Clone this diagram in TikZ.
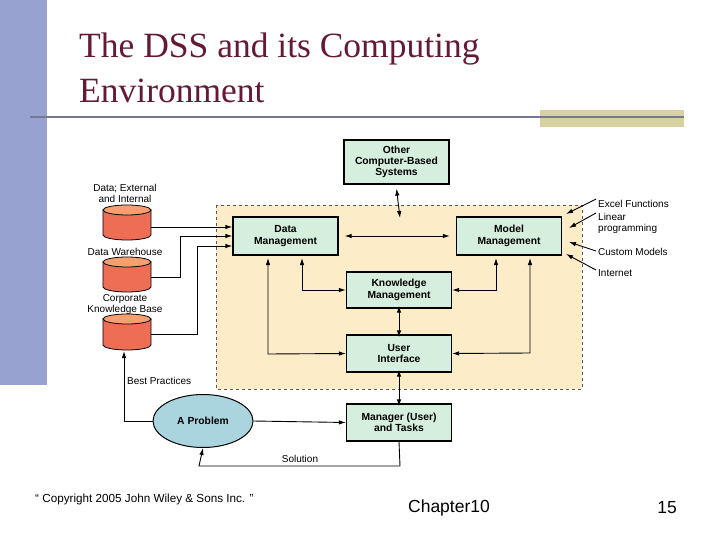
\documentclass[tikz,border=0pt]{standalone}
\usepackage{fontspec}
\setmainfont{Liberation Serif}
\newfontfamily\sans{Liberation Sans}
\usetikzlibrary{shapes.geometric,arrows.meta}
\definecolor{bar}{RGB}{152,162,208}
\definecolor{rule}{RGB}{120,120,150}
\definecolor{tan}{RGB}{215,210,160}
\definecolor{ttl}{RGB}{100,25,55}
\definecolor{zone}{RGB}{253,236,200}
\definecolor{bx}{RGB}{214,238,222}
\definecolor{cyl}{RGB}{238,110,85}
\definecolor{cyltop}{RGB}{245,160,110}
\definecolor{ell}{RGB}{170,212,222}
\begin{document}
\begin{tikzpicture}[x=1pt,y=-1pt,
  box/.style={draw,line width=1.3pt,fill=bx,minimum width=105pt,inner sep=0pt,align=center,font=\sans\fontsize{10.3}{11.3}\selectfont\bfseries},
  lab/.style={font=\sans\fontsize{10}{11}\selectfont,align=center,inner sep=0pt},
  ar/.style={-{Latex[length=7pt,width=4.5pt]},line width=0.9pt},
  dar/.style={{Latex[length=7pt,width=4.5pt]}-{Latex[length=7pt,width=4.5pt]},line width=0.9pt}]
\useasboundingbox (0,0) rectangle (720,540);
\fill[bar] (0,0) rectangle (47,385);
\fill[tan] (540,110) rectangle (684,127);
\draw[rule,line width=1.5pt] (30,117) -- (684,117);
\node[anchor=west,text=ttl,font=\fontsize{35.5}{45}\selectfont,align=left,inner sep=0pt] (title) at (79,68) {The DSS and its Computing\\Environment};
\fill[zone] (216,205) rectangle (582,389);
\draw[dashed,gray!70!black,line width=0.6pt] (216,205) rectangle (582,389);
\node[box,minimum height=44pt] (oth) at (396.5,162) {Other\\Computer-Based\\Systems};
\node[box,minimum height=38pt] (dm) at (285.5,236) {Data\\Management};
\node[box,minimum height=38pt] (mm) at (509,236) {Model\\Management};
\node[box,minimum height=36pt] (km) at (399,290) {Knowledge\\Management};
\node[box,minimum height=37pt] (ui) at (399,353.5) {User\\Interface};
\node[box,minimum height=37pt] (mg) at (399,422.5) {Manager (User)\\and Tasks};
\node[ellipse,draw,line width=1pt,fill=ell,minimum width=100pt,minimum height=53pt,font=\sans\fontsize{10.3}{11}\selectfont\bfseries] (pb) at (203,421) {A Problem};
% cylinders
\foreach \n/\t/\b in {c1/210/235,c2/262/287,c3/319/345}{
  \fill[cyl,draw=black,line width=0.8pt] (103,\t) -- (103,\b) arc[start angle=180,end angle=360,x radius=24,y radius=-5] -- (151,\t) -- cycle;
  \fill[cyltop,draw=black,line width=0.8pt] (127,\t) ellipse[x radius=24,y radius=5];
}
\coordinate (c3b) at (124,351);
\node[lab] (l1) at (125,193) {Data; External\\and Internal};
\node[lab] (l2) at (125,252) {Data Warehouse};
\node[lab] (l3) at (125,305) {Corporate\\Knowledge Base};
\draw[ar] (151,227) -- (dm.west|-0,227);
\draw[ar] (151,277) -- (180,277) -- (180,236) -- (dm.west|-0,236);
\draw[ar] (151,334) -- (197,334) -- (197,246) -- (dm.west|-0,246);
\draw[dar] (oth.south)+(0,4) -- (400,218);
\draw[dar] ([xshift=6pt]dm.east) -- ([xshift=-6pt]mm.west);
\draw[dar] (302,258) -- (302,290) -- (km.west);
\draw[dar] (268,258) -- (268,354) -- (ui.west);
\draw[dar] (496,258) -- (496,290) -- (km.east);
\draw[dar] (530,258) -- (530,353) -- (ui.east);
\draw[dar] ([yshift=3pt]km.south) -- ([yshift=-3pt]ui.north);
\draw[dar] ([yshift=3pt]ui.south) -- ([yshift=-3pt]mg.north);
\draw[ar] (pb.east) -- (mg.west);
\draw[ar] (pb.west) -- (124,421) -- (c3b);
\node[lab,anchor=west] (bp) at (127,381) {Best Practices};
\draw[ar] (mg.south) -- (400,466) -- (199,466) -- (pb.south);
\node[lab] (sol) at (300,459) {Solution};
\node[lab,anchor=west] (r1) at (598,204) {Excel Functions};
\node[lab,anchor=west,align=left] (r2) at (598,223) {Linear\\programming};
\node[lab,anchor=west] (r3) at (598,252) {Custom Models};
\node[lab,anchor=west] (r4) at (598,273) {Internet};
\draw[ar] (596,199) -- (566,214);
\draw[ar] (596,213) -- (569,228);
\draw[ar] (596,251) -- (569,242);
\draw[ar] (596,270) -- (566,254);
\node[anchor=west,font=\sans\fontsize{11.7}{14}\selectfont,inner sep=0pt] (cp) at (35,499) {“ Copyright 2005 John Wiley \& Sons Inc. ”};
\node[font=\sans\fontsize{17.5}{20}\selectfont,inner sep=0pt] (ch) at (449,508) {Chapter10};
\node[font=\sans\fontsize{17.5}{20}\selectfont,inner sep=0pt] (pg) at (667,508) {15};
\end{tikzpicture}
\end{document}
